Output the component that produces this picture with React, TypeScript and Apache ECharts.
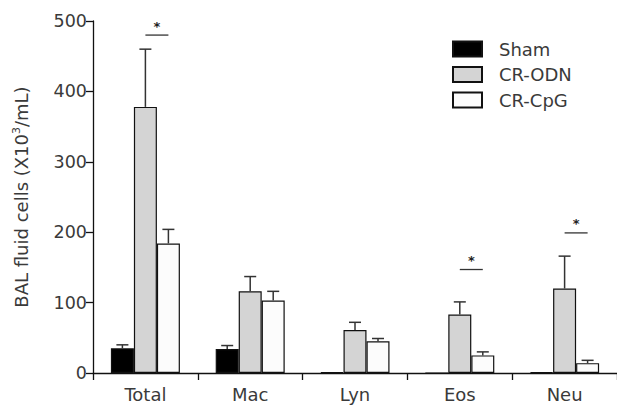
import React, { useEffect, useRef } from "react";
import * as echarts from "echarts";

const categories = ["Total", "Mac", "Lyn", "Eos", "Neu"];
const seriesNames = ["Sham", "CR-ODN", "CR-CpG"];
const shamValues = [35, 34, 1, 0, 1];
const shamErrors = [5, 5, 0, 0, 0];
const odnValues = [378, 116, 61, 83, 120];
const odnErrors = [82, 21, 11, 18, 46];
const cpgValues = [184, 103, 45, 25, 14];
const cpgErrors = [20, 13, 4, 5, 4];
const yTicks = [0, 100, 200, 300, 400, 500];
// significance brackets: category index, line height (data units)
const sigCategories = [0, 3, 4];
const sigHeights = [480, 147, 199];

const BAR_W = 23;
const FONT = "'DejaVu Sans', 'Liberation Sans', Arial, sans-serif";

export default function App() {
  const ref = useRef<HTMLDivElement>(null);
  useEffect(() => {
    const chart = echarts.init(ref.current!, null, { renderer: "svg" });
    const allValues = [shamValues, odnValues, cpgValues];
    const allErrors = [shamErrors, odnErrors, cpgErrors];
    const colors = ["#000000", "#d4d4d4", "#fcfcfc"];

    const barSeries = seriesNames.map((name, i) => ({
      type: "bar",
      name,
      data: allValues[i],
      barWidth: BAR_W,
      barGap: "0%",
      itemStyle: { color: colors[i], borderColor: "#111", borderWidth: 1.2 },
      z: 2,
    }));

    const errorData: number[][] = [];
    allValues.forEach((vals, s) => {
      vals.forEach((v, c) => {
        if (allErrors[s][c] > 0) errorData.push([c, v, v + allErrors[s][c], s]);
      });
    });

    const errorSeries = {
      type: "custom",
      name: "err",
      data: errorData,
      z: 3,
      renderItem: (params: any, api: any) => {
        const c = api.value(0);
        const s = api.value(3);
        const off = (s - 1) * BAR_W;
        const p0 = api.coord([c, api.value(1)]);
        const p1 = api.coord([c, api.value(2)]);
        const x = p0[0] + off;
        const style = { stroke: "#333", lineWidth: 1.5 };
        return {
          type: "group",
          children: [
            { type: "line", shape: { x1: x, y1: p0[1], x2: x, y2: p1[1] }, style },
            { type: "line", shape: { x1: x - 6, y1: p1[1], x2: x + 6, y2: p1[1] }, style },
          ],
        };
      },
    };

    const sigData = sigCategories.map((c, i) => [c, sigHeights[i]]);
    const sigSeries = {
      type: "custom",
      name: "sig",
      data: sigData,
      z: 3,
      renderItem: (params: any, api: any) => {
        const p = api.coord([api.value(0), api.value(1)]);
        const x1 = p[0];
        const x2 = p[0] + BAR_W;
        const y = p[1];
        return {
          type: "group",
          children: [
            { type: "line", shape: { x1, y1: y, x2, y2: y }, style: { stroke: "#333", lineWidth: 1.3 } },
            {
              type: "text",
              style: {
                text: "*",
                x: (x1 + x2) / 2,
                y: y - 9,
                align: "center",
                verticalAlign: "middle",
                font: `bold 13px ${FONT}`,
                fill: "#222",
              },
            },
          ],
        };
      },
    };

    chart.setOption({
      animation: false,
      backgroundColor: "#ffffff",
      grid: { left: 93, right: 0, top: 21, bottom: 33, containLabel: false },
      legend: {
        data: seriesNames,
        icon: "rect",
        orient: "vertical",
        left: 452,
        top: 40,
        itemWidth: 29,
        itemHeight: 15,
        itemGap: 7.5,
        textStyle: {
          fontFamily: FONT,
          fontSize: 18,
          lineHeight: 15,
          color: "#3a3a3a",
          padding: [0, 0, 0, 12],
        },
        padding: 0,
      },
      xAxis: {
        type: "category",
        data: categories,
        axisLine: { lineStyle: { color: "#111", width: 1.3 } },
        axisTick: { show: true, length: 7, lineStyle: { color: "#111", width: 1.3 } },
        axisLabel: { fontFamily: FONT, fontSize: 18, color: "#3a3a3a", margin: 12 },
      },
      yAxis: {
        type: "value",
        min: 0,
        max: 500,
        interval: 100,
        name: "BAL fluid cells (X10{sup|3}/mL)",
        nameLocation: "middle",
        nameGap: 62,
        nameTextStyle: {
          fontFamily: FONT,
          fontSize: 18,
          color: "#3a3a3a",
          rich: {
            sup: { fontFamily: FONT, fontSize: 11, color: "#3a3a3a", verticalAlign: "top", lineHeight: 20, padding: [0, 0, 8, 0] },
          },
        },
        axisLine: { show: true, lineStyle: { color: "#111", width: 1.3 } },
        axisTick: { show: true, length: 7, lineStyle: { color: "#111", width: 1.3 } },
        axisLabel: {
          fontFamily: FONT,
          fontSize: 17.5,
          color: "#3a3a3a",
          margin: 6,
          formatter: (v: number) => (yTicks.includes(v) ? String(v) : ""),
        },
        splitLine: { show: false },
      },
      series: [...barSeries, errorSeries, sigSeries],
    });
    return () => chart.dispose();
  }, []);
  return <div ref={ref} style={{ width: 617, height: 406, position: "absolute", left: 0, top: 0 }} />;
}
